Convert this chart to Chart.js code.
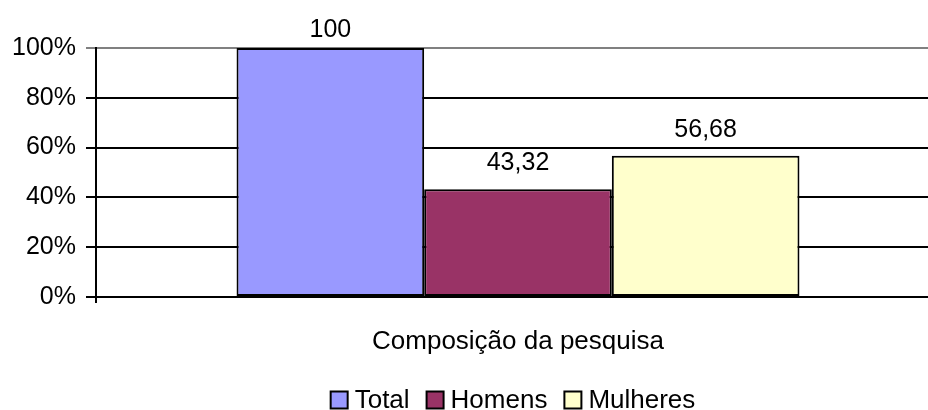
<!DOCTYPE html>
<html>
<head>
<meta charset="utf-8">
<script src="https://cdn.jsdelivr.net/npm/chart.js@4"></script>
<style>
  html, body { margin: 0; padding: 0; background: #fff; overflow: hidden; }
  #wrap { width: 940px; height: 410px; overflow: hidden; }
</style>
</head>
<body>
<div id="wrap"><canvas id="grafico" width="940" height="410"></canvas></div>
<script>
// dados do gráfico
const categorias = ['Composição da pesquisa'];
const series = ['Total', 'Homens', 'Mulheres'];
const valores = [100, 43.32, 56.68];
const rotulos = ['100', '43,32', '56,68'];
const cores = ['#9999FF', '#993366', '#FFFFCC'];
const ticksY = [0, 20, 40, 60, 80, 100];

const familia = 'Liberation Sans, Arial, sans-serif';
const fonte = { family: familia, size: 25 };
const fonteGrande = { family: familia, size: 26 };

// escreve os valores acima das barras
const rotuloPlugin = {
    id: 'rotulos',
    afterDatasetsDraw(chart) {
        const ctx = chart.ctx;
        ctx.save();
        ctx.font = '25px ' + familia;
        ctx.fillStyle = '#000';
        ctx.textAlign = 'center';
        ctx.textBaseline = 'alphabetic';
        chart.data.datasets.forEach((ds, i) => {
            const bar = chart.getDatasetMeta(i).data[0];
            ctx.fillText(rotulos[i], bar.x, Math.max(bar.y - 19, 37)); // não deixa sair do topo
        });
        ctx.restore();
    }
};

// legenda desenhada à mão (espaçamento igual ao Excel)
const legendaPlugin = {
    id: 'legenda',
    afterDraw(chart) {
        const ctx = chart.ctx;
        const caixa = 17, gap = 7, espaco = 17, y = 400;
        ctx.save();
        ctx.font = '26px ' + familia;
        ctx.textBaseline = 'middle';
        ctx.textAlign = 'left';
        const itens = chart.data.datasets.map(ds => ({ ds, w: ctx.measureText(ds.label).width }));
        const total = itens.reduce((s, it) => s + caixa + gap + it.w, 0) + espaco * (itens.length - 1);
        const area = chart.chartArea;
        let x = (area.left + area.right) / 2 - 5 - total / 2;
        itens.forEach(it => {
            ctx.fillStyle = it.ds.backgroundColor;
            ctx.fillRect(x, y - caixa / 2, caixa, caixa);
            ctx.strokeStyle = '#000';
            ctx.lineWidth = 2;
            ctx.strokeRect(x, y - caixa / 2, caixa, caixa);
            ctx.fillStyle = '#000';
            ctx.fillText(it.ds.label, x + caixa + gap, y + 1);
            x += caixa + gap + it.w + espaco;
        });
        ctx.restore();
    }
};

const datasets = series.map((nome, i) => ({
    label: nome,
    data: [valores[i]],
    backgroundColor: cores[i],
    borderColor: '#000',
    borderWidth: 2,
    borderSkipped: false
}));

new Chart(document.getElementById('grafico'), {
    type: 'bar',
    data: { labels: categorias, datasets: datasets },
    options: {
        responsive: false,
        animation: false,
        datasets: { bar: { categoryPercentage: 0.667, barPercentage: 1 } },
        layout: { padding: { top: 48, left: 0, right: 0, bottom: 0 } },
        plugins: {
            tooltip: { enabled: false },
            legend: { display: false }
        },
        scales: {
            x: {
                offset: true,
                grid: { offset: true, drawOnChartArea: false, tickLength: 6, color: '#000', lineWidth: 2 },
                border: { color: '#000', width: 2 },
                ticks: { font: fonteGrande, color: '#000', padding: 23 },
                afterFit(scale) { scale.height = 113; }
            },
            y: {
                min: 0,
                max: 100,
                afterBuildTicks(scale) { scale.ticks = ticksY.map(v => ({ value: v })); },
                grid: {
                    color: c => c.tick && c.tick.value === 100 ? '#808080' : '#000',
                    lineWidth: 2,
                    tickLength: 10
                },
                border: { color: '#000', width: 2 },
                ticks: { font: fonte, color: '#000', padding: 10, callback: v => v + '%' },
                afterFit(scale) { scale.width = 96; }
            }
        }
    },
    plugins: [rotuloPlugin, legendaPlugin]
});
</script>
</body>
</html>
